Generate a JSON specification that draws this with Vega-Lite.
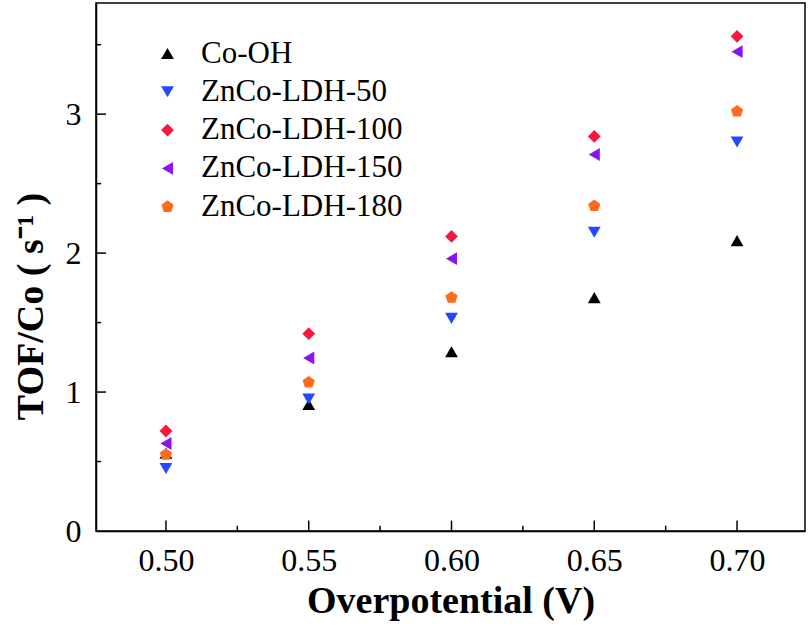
{
  "$schema": "https://vega.github.io/schema/vega-lite/v6.json",
  "width": 709,
  "height": 528,
  "autosize": "none",
  "padding": {"left": 96, "top": 3, "right": 5, "bottom": 96},
  "background": "white",
  "config": {
    "view": {"stroke": "black", "strokeWidth": 1.5},
    "font": "Times New Roman, Liberation Serif, serif",
    "axis": {
      "domainColor": "black",
      "domainWidth": 1.5,
      "ticks": false,
      "labelColor": "black",
      "labelFont": "Times New Roman, Liberation Serif, serif",
      "labelFontSize": 32,
      "titleFont": "Times New Roman, Liberation Serif, serif",
      "titleFontWeight": "bold",
      "titleFontSize": 38,
      "titleColor": "black",
      "grid": false
    },
    "legend": {
      "labelFont": "Times New Roman, Liberation Serif, serif",
      "labelFontSize": 31,
      "labelColor": "black",
      "labelLimit": 0
    }
  },
  "datasets": {
    "points": [
      {"eta": 0.50, "tof": 0.56, "sample": "Co-OH"},
      {"eta": 0.55, "tof": 0.91, "sample": "Co-OH"},
      {"eta": 0.60, "tof": 1.29, "sample": "Co-OH"},
      {"eta": 0.65, "tof": 1.68, "sample": "Co-OH"},
      {"eta": 0.70, "tof": 2.09, "sample": "Co-OH"},
      {"eta": 0.50, "tof": 0.45, "sample": "ZnCo-LDH-50"},
      {"eta": 0.55, "tof": 0.95, "sample": "ZnCo-LDH-50"},
      {"eta": 0.60, "tof": 1.53, "sample": "ZnCo-LDH-50"},
      {"eta": 0.65, "tof": 2.15, "sample": "ZnCo-LDH-50"},
      {"eta": 0.70, "tof": 2.80, "sample": "ZnCo-LDH-50"},
      {"eta": 0.50, "tof": 0.72, "sample": "ZnCo-LDH-100"},
      {"eta": 0.55, "tof": 1.42, "sample": "ZnCo-LDH-100"},
      {"eta": 0.60, "tof": 2.12, "sample": "ZnCo-LDH-100"},
      {"eta": 0.65, "tof": 2.84, "sample": "ZnCo-LDH-100"},
      {"eta": 0.70, "tof": 3.56, "sample": "ZnCo-LDH-100"},
      {"eta": 0.50, "tof": 0.63, "sample": "ZnCo-LDH-150"},
      {"eta": 0.55, "tof": 1.245, "sample": "ZnCo-LDH-150"},
      {"eta": 0.60, "tof": 1.96, "sample": "ZnCo-LDH-150"},
      {"eta": 0.65, "tof": 2.71, "sample": "ZnCo-LDH-150"},
      {"eta": 0.70, "tof": 3.45, "sample": "ZnCo-LDH-150"},
      {"eta": 0.50, "tof": 0.55, "sample": "ZnCo-LDH-180"},
      {"eta": 0.55, "tof": 1.07, "sample": "ZnCo-LDH-180"},
      {"eta": 0.60, "tof": 1.68, "sample": "ZnCo-LDH-180"},
      {"eta": 0.65, "tof": 2.34, "sample": "ZnCo-LDH-180"},
      {"eta": 0.70, "tof": 3.02, "sample": "ZnCo-LDH-180"}
    ],
    "xmajor": [{"v": 0.5}, {"v": 0.55}, {"v": 0.6}, {"v": 0.65}, {"v": 0.7}],
    "xminor": [{"v": 0.525}, {"v": 0.575}, {"v": 0.625}, {"v": 0.675}],
    "ymajor": [{"v": 1}, {"v": 2}, {"v": 3}],
    "yminor": [{"v": 0.5}, {"v": 1.5}, {"v": 2.5}, {"v": 3.5}]
  },
  "layer": [
    {
      "data": {"name": "xmajor"},
      "mark": {"type": "rule", "color": "black", "strokeWidth": 1.5},
      "encoding": {
        "x": {"field": "v", "type": "quantitative"},
        "y": {"datum": 0},
        "y2": {"datum": 0.075}
      }
    },
    {
      "data": {"name": "xminor"},
      "mark": {"type": "rule", "color": "black", "strokeWidth": 1.5},
      "encoding": {
        "x": {"field": "v", "type": "quantitative"},
        "y": {"datum": 0},
        "y2": {"datum": 0.038}
      }
    },
    {
      "data": {"name": "ymajor"},
      "mark": {"type": "rule", "color": "black", "strokeWidth": 1.5},
      "encoding": {
        "y": {"field": "v", "type": "quantitative"},
        "x": {"datum": 0.4755},
        "x2": {"datum": 0.479}
      }
    },
    {
      "data": {"name": "yminor"},
      "mark": {"type": "rule", "color": "black", "strokeWidth": 1.5},
      "encoding": {
        "y": {"field": "v", "type": "quantitative"},
        "x": {"datum": 0.4755},
        "x2": {"datum": 0.4773}
      }
    },
    {
      "data": {"name": "points"},
      "mark": {"type": "point", "filled": true, "opacity": 1, "size": 165},
      "encoding": {
        "x": {
          "field": "eta",
          "type": "quantitative",
          "title": "Overpotential (V)",
          "scale": {"domain": [0.4755, 0.7238], "nice": false, "zero": false},
          "axis": {
            "values": [0.5, 0.55, 0.6, 0.65, 0.7],
            "format": ".2f",
            "labelPadding": 14,
            "titlePadding": 6
          }
        },
        "y": {
          "field": "tof",
          "type": "quantitative",
          "title": "TOF/Co ( s⁻¹ )",
          "scale": {"domain": [0, 3.8], "nice": false},
          "axis": {
            "values": [0, 1, 2, 3],
            "format": "d",
            "labelPadding": 15,
            "titleX": -54,
            "titleY": 303,
            "titleBaseline": "alphabetic",
            "titleAlign": "center"
          }
        },
        "color": {
          "field": "sample",
          "type": "nominal",
          "title": null,
          "scale": {
            "domain": ["Co-OH", "ZnCo-LDH-50", "ZnCo-LDH-100", "ZnCo-LDH-150", "ZnCo-LDH-180"],
            "range": ["#000000", "#2747ff", "#f8173f", "#8b12f5", "#ff6a1c"]
          },
          "legend": {
            "orient": "none",
            "legendX": 56,
            "legendY": 35,
            "symbolSize": 165,
            "rowPadding": 6.3,
            "labelOffset": 18,
            "symbolOpacity": 1
          }
        },
        "shape": {
          "field": "sample",
          "type": "nominal",
          "title": null,
          "scale": {
            "domain": ["Co-OH", "ZnCo-LDH-50", "ZnCo-LDH-100", "ZnCo-LDH-150", "ZnCo-LDH-180"],
            "range": ["triangle-up", "triangle-down", "diamond", "triangle-left", "M0,-1L0.951,-0.309L0.588,0.809L-0.588,0.809L-0.951,-0.309Z"]
          }
        }
      }
    }
  ]
}
